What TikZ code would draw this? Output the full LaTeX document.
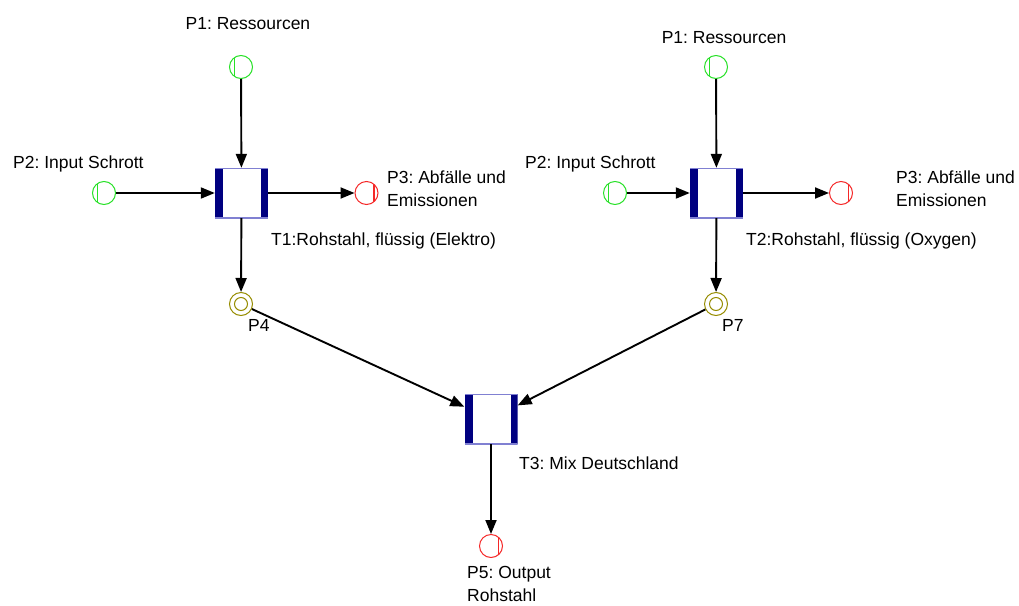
\documentclass[tikz,border=0pt]{standalone}
\usepackage{fontspec}
\setmainfont{Liberation Sans}
\usetikzlibrary{arrows.meta}
\frenchspacing

\definecolor{tnavy}{RGB}{0,0,128}
\definecolor{tedge}{RGB}{128,128,210}
\definecolor{pgreen}{RGB}{40,225,40}
\definecolor{pred}{RGB}{245,40,40}
\definecolor{polive}{RGB}{150,140,0}

\tikzset{
  % transition: white box with thick navy side bars
  trans/.style={fill=white, minimum width=53pt, minimum height=50pt, inner sep=0pt,
    path picture={
      \fill[tnavy] (path picture bounding box.north west) rectangle ([xshift=8pt]path picture bounding box.south west);
      \fill[tnavy] (path picture bounding box.north east) rectangle ([xshift=-7pt]path picture bounding box.south east);
      \draw[tedge, line width=2.4pt] (path picture bounding box.north west) -- (path picture bounding box.north east);
      \draw[tedge, line width=2.4pt] (path picture bounding box.south west) -- (path picture bounding box.south east);
    }},
  placebase/.style={circle, minimum size=23pt, inner sep=0pt, line width=1pt, fill=white},
  % input place: green with bar on the left
  inplace/.style={placebase, draw=pgreen,
    path picture={\draw[pgreen, line width=1.2pt] ([xshift=-6.5pt,yshift=-14pt]path picture bounding box.center) -- ++(0pt,28pt);}},
  % output place: red with bar on the right
  outplace/.style={placebase, draw=pred,
    path picture={\draw[pred, line width=1.2pt] ([xshift=7.5pt,yshift=-14pt]path picture bounding box.center) -- ++(0pt,28pt);}},
  % intermediate place: olive double ring
  midplace/.style={placebase, draw=polive,
    path picture={\draw[polive, line width=1pt] (path picture bounding box.center) circle (6.5pt);}},
  arr/.style={line width=1.9pt, -{Triangle[length=14pt, width=11pt]}},
  lbl/.style={font=\fontsize{17.5}{23}\selectfont, inner sep=0pt, anchor=base west, align=left},
}

\begin{document}
\begin{tikzpicture}[x=1pt, y=-1pt]
  \useasboundingbox (0,0) rectangle (1019,605);

  % left branch
  \node[inplace]  (p1a) at (241,67) {};
  \node[inplace]  (p2a) at (104,193) {};
  \node[trans]    (t1)  at (241.5,193) {};
  \node[outplace] (p3a) at (366.5,193) {};
  \node[midplace] (p4)  at (241,304) {};

  % right branch
  \node[inplace]  (p1b) at (716,67) {};
  \node[inplace]  (p2b) at (615,193) {};
  \node[trans]    (t2)  at (716.5,193) {};
  \node[outplace] (p3b) at (841,193) {};
  \node[midplace] (p7)  at (716,304) {};

  % merge
  \node[trans]    (t3)  at (491,419) {};
  \node[outplace] (p5)  at (491,546) {};

  % arcs
  \draw[arr] (p1a) -- (t1);
  \draw[arr] (p2a) -- (t1);
  \draw[arr] (t1) -- (p3a);
  \draw[arr] (t1) -- (p4);
  \draw[arr] (p1b) -- (t2);
  \draw[arr] (p2b) -- (t2);
  \draw[arr] (t2) -- (p3b);
  \draw[arr] (t2) -- (p7);
  \draw[arr] (p4) -- (t3);
  \draw[arr] (p7) -- (t3);
  \draw[arr] (t3) -- (p5);

  % labels (two-line labels are placed by the baseline of their last line)
  \node[lbl, anchor=base] (lp1a) at (248,29) {P1: Ressourcen};
  \node[lbl] (lp2a) at (13,168) {P2: Input Schrott};
  \node[lbl] (lp3a) at (387,206) {P3: Abfälle und\\Emissionen};
  \node[lbl] (lt1)  at (271,245) {T1:Rohstahl, flüssig (Elektro)};
  \node[lbl] (lp4)  at (248,331) {P4};

  \node[lbl, anchor=base] (lp1b) at (724,43) {P1: Ressourcen};
  \node[lbl] (lp2b) at (525,168) {P2: Input Schrott};
  \node[lbl] (lp3b) at (896,206) {P3: Abfälle und\\Emissionen};
  \node[lbl] (lt2)  at (746,245) {T2:Rohstahl, flüssig (Oxygen)};
  \node[lbl] (lp7)  at (722,331) {P7};

  \node[lbl] (lt3)  at (519,469) {T3: Mix Deutschland};
  \node[lbl] (lp5)  at (467,601) {P5: Output\\Rohstahl};
\end{tikzpicture}
\end{document}
